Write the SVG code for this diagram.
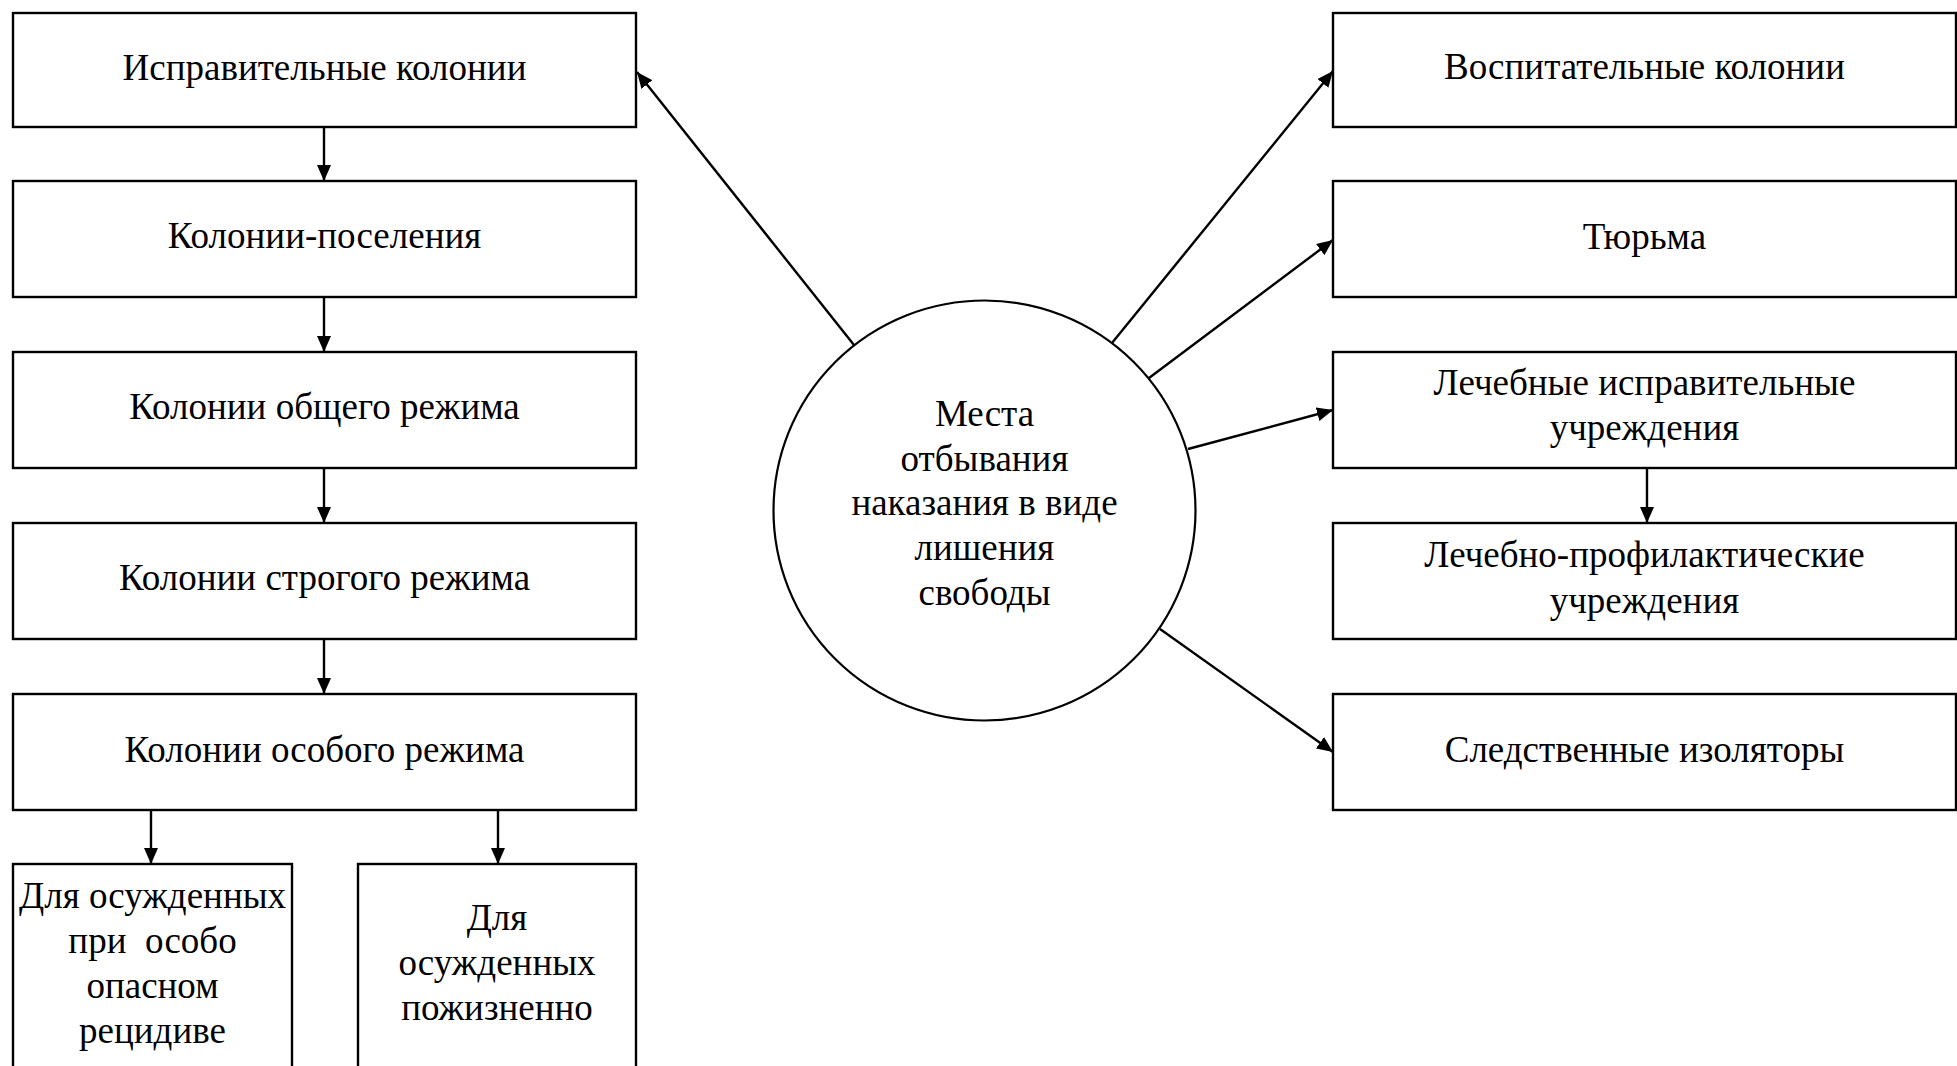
<svg xmlns="http://www.w3.org/2000/svg" width="1957" height="1066" viewBox="0 0 1957 1066">
<style>
.box{fill:#fff;stroke:#000;stroke-width:2.4}
.t{font-family:"Liberation Serif","Times New Roman",serif;font-size:37px;fill:#000;text-anchor:middle}
.c{fill:none;stroke:#000;stroke-width:2.4;marker-end:url(#ah)}
</style>
<defs>
<marker id="ah" markerUnits="userSpaceOnUse" markerWidth="17" markerHeight="14" refX="16" refY="7" orient="auto">
<path d="M0,0 L16,7 L0,14 z" fill="#000"/>
</marker>
</defs>
<rect width="1957" height="1066" fill="#fff"/>
<g id="connectors">
<line class="c" x1="854" y1="345" x2="637" y2="72"/>
<line class="c" x1="1112" y1="343" x2="1333" y2="71"/>
<line class="c" x1="1149" y1="378" x2="1333" y2="240"/>
<line class="c" x1="1188" y1="449" x2="1333" y2="410"/>
<line class="c" x1="1160" y1="629" x2="1333" y2="752"/>
<line class="c" x1="324" y1="127" x2="324" y2="181"/>
<line class="c" x1="324" y1="297" x2="324" y2="352"/>
<line class="c" x1="324" y1="468" x2="324" y2="523"/>
<line class="c" x1="324" y1="639" x2="324" y2="694"/>
<line class="c" x1="151" y1="810" x2="151" y2="864"/>
<line class="c" x1="498" y1="810" x2="498" y2="864"/>
<line class="c" x1="1647" y1="468" x2="1647" y2="523"/>
</g>
<g id="center">
<ellipse cx="984.5" cy="510.5" rx="211" ry="210" fill="#fff" stroke="#000" stroke-width="2.2"/>
<text class="t" x="984.5" y="426">Места</text>
<text class="t" x="984.5" y="471">отбывания</text>
<text class="t" x="984.5" y="515">наказания в виде</text>
<text class="t" x="984.5" y="560">лишения</text>
<text class="t" x="984.5" y="605">свободы</text>
</g>
<g id="ik"><rect class="box" x="13" y="13" width="623" height="114"/><text class="t" x="324.5" y="80">Исправительные колонии</text></g>
<g id="kp"><rect class="box" x="13" y="181" width="623" height="116"/><text class="t" x="324.5" y="248">Колонии-поселения</text></g>
<g id="kor"><rect class="box" x="13" y="352" width="623" height="116"/><text class="t" x="324.5" y="419">Колонии общего режима</text></g>
<g id="ksr"><rect class="box" x="13" y="523" width="623" height="116"/><text class="t" x="324.5" y="590">Колонии строгого режима</text></g>
<g id="kosr"><rect class="box" x="13" y="694" width="623" height="116"/><text class="t" x="324.5" y="762">Колонии особого режима</text></g>
<g id="rec"><rect class="box" x="13" y="864" width="279" height="220"/>
<text class="t" x="152.5" y="908">Для осужденных</text>
<text class="t" x="152.5" y="953" xml:space="preserve">при  особо</text>
<text class="t" x="152.5" y="998">опасном</text>
<text class="t" x="152.5" y="1043">рецидиве</text></g>
<g id="life"><rect class="box" x="358" y="864" width="278" height="220"/>
<text class="t" x="497" y="930">Для</text>
<text class="t" x="497" y="975">осужденных</text>
<text class="t" x="497" y="1020">пожизненно</text></g>
<g id="vk"><rect class="box" x="1333" y="13" width="623" height="114"/><text class="t" x="1644.5" y="79">Воспитательные колонии</text></g>
<g id="tur"><rect class="box" x="1333" y="181" width="623" height="116"/><text class="t" x="1644.5" y="249">Тюрьма</text></g>
<g id="liu"><rect class="box" x="1333" y="352" width="623" height="116"/><text class="t" x="1644.5" y="395">Лечебные исправительные</text><text class="t" x="1644.5" y="440">учреждения</text></g>
<g id="lpu"><rect class="box" x="1333" y="523" width="623" height="116"/><text class="t" x="1644.5" y="567">Лечебно-профилактические</text><text class="t" x="1644.5" y="613">учреждения</text></g>
<g id="si"><rect class="box" x="1333" y="694" width="623" height="116"/><text class="t" x="1644.5" y="762">Следственные изоляторы</text></g>
</svg>
